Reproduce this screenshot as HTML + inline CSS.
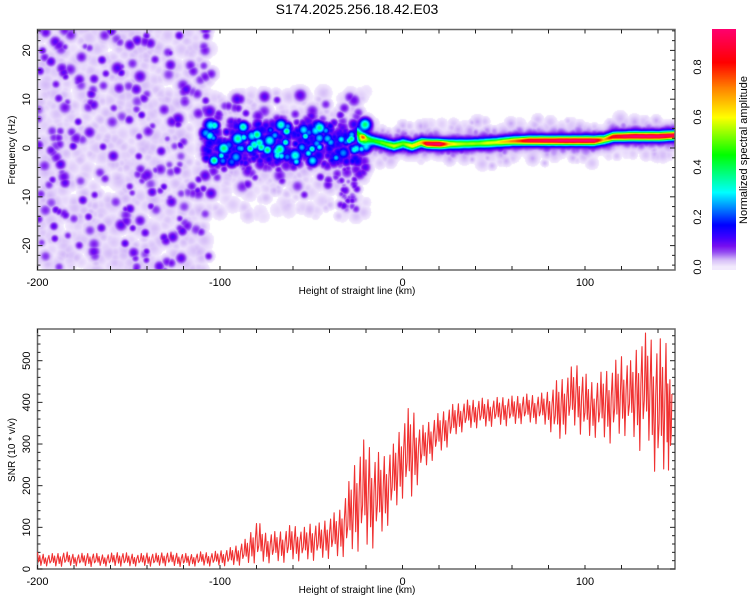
<!DOCTYPE html>
<html><head><meta charset="utf-8">
<style>
html,body{margin:0;padding:0;background:#fff;width:750px;height:600px;overflow:hidden;}
#wrap{position:relative;width:750px;height:600px;font-family:"Liberation Sans",sans-serif;}
canvas{position:absolute;}
svg{position:absolute;left:0;top:0;}
</style></head>
<body>
<div id="wrap">
<canvas id="heat" width="637" height="240" style="left:38px;top:30px"></canvas>
<canvas id="cbar" width="24" height="241" style="left:712px;top:29px"></canvas>
<svg id="svg" width="750" height="600"></svg>
</div>
<script>
// ---------- data ----------
const xTicks = [-200,-100,0,100];
const freqTicks = [-20,-10,0,10,20];
const snrTicks = [0,100,200,300,400,500];
const cbarTicks = [0.0,0.2,0.4,0.6,0.8];
// signal ridge (height km, frequency Hz, normalized amplitude)
const ridgeH = [-25,-20,-15,-10,-5,0,5,10,13,20,25,30,40,50,60,70,90,105,110,115,125,140,150];
const ridgeF = [3,2,1.5,1,0.5,1,0.5,1.2,1,0.9,0.9,0.9,1.0,1.2,1.5,1.6,1.6,1.6,1.8,2.4,2.5,2.5,2.7];
const ridgeA = [0.25,0.3,0.35,0.4,0.45,0.4,0.5,0.55,0.8,0.85,0.55,0.45,0.42,0.48,0.6,0.8,0.85,0.85,0.55,0.75,0.85,0.85,0.8];
// SNR envelope per 5 km bin
const snrH = [-200,-195,-190,-185,-180,-175,-170,-165,-160,-155,-150,-145,-140,-135,-130,-125,-120,-115,-110,-105,-100,-95,-90,-85,-80,-75,-70,-65,-60,-55,-50,-45,-40,-35,-30,-25,-20,-15,-10,-5,0,5,10,15,20,25,30,35,40,45,50,55,60,65,70,75,80,85,90,95,100,105,110,115,120,125,130,135,140,145,148];
const snrLo = [5,6,4,5,6,5,4,6,5,5,4,6,5,5,6,5,4,5,6,5,6,5,6,8,10,10,12,12,15,15,15,18,20,20,25,30,30,40,80,120,160,150,220,250,270,290,320,330,335,335,340,340,340,345,345,345,335,290,320,330,300,310,300,290,310,310,270,280,180,220,230];
const snrHi = [40,35,38,42,36,38,40,35,38,42,38,36,40,38,42,40,38,36,42,40,45,50,60,75,120,90,90,95,110,95,115,110,130,140,200,280,320,280,280,300,360,400,340,360,375,390,400,405,410,410,410,415,415,420,420,420,430,455,470,500,470,450,480,490,520,500,560,570,550,560,400];

// ---------- geometry ----------
const PX0=37.5, PX1=675;
const xH = h => PX0 + (h+200)*1.825;
const T_TOP=29.5, T_BOT=270;
const yF = f => 148 - f*4.88;
const B_TOP=329, B_BOT=569;
const yS = v => 569 - v*0.4166;
const CB_TOP=29, CB_BOT=270;
const yC = a => 267 - a*250;

const NS="http://www.w3.org/2000/svg";
const svg=document.getElementById('svg');
function mk(tag, attrs, parent){const e=document.createElementNS(NS,tag);for(const k in attrs)e.setAttribute(k,attrs[k]);(parent||svg).appendChild(e);return e;}

// ---------- colormap ----------
const cmStops=[[0,255,255,255],[0.006,240,230,253],[0.03,214,190,248],[0.06,150,80,242],[0.085,120,15,240],[0.12,64,0,255],[0.17,0,0,255],[0.3,0,255,255],[0.45,0,255,0],[0.6,255,255,0],[0.72,255,128,0],[0.82,255,0,0],[1.0,255,0,150]];
function cmap(v){
  if(v<=0.004) return [255,255,255];
  for(let i=1;i<cmStops.length;i++){
    if(v<=cmStops[i][0]){const a=cmStops[i-1],b=cmStops[i];const t=(v-a[0])/(b[0]-a[0]);
      return [a[1]+(b[1]-a[1])*t,a[2]+(b[2]-a[2])*t,a[3]+(b[3]-a[3])*t];}
  }
  return [255,0,150];
}

// ---------- heatmap ----------
(function(){
  const cv=document.getElementById('heat'),ctx=cv.getContext('2d');
  const W=cv.width,H=cv.height,OX=38,OY=30;
  const field=new Float32Array(W*H);
  function blob(cx,cy,s,a){
    const r=Math.ceil(s*2.5);
    const x0=Math.max(0,Math.floor(cx-r)),x1=Math.min(W-1,Math.ceil(cx+r));
    const y0=Math.max(0,Math.floor(cy-r)),y1=Math.min(H-1,Math.ceil(cy+r));
    for(let y=y0;y<=y1;y++)for(let x=x0;x<=x1;x++){
      const dx=x-cx,dy=y-cy;const v=a*Math.exp(-(dx*dx+dy*dy)/(2*s*s));
      const i=y*W+x; if(v>field[i]) field[i]=v;
    }
  }
  // background noise texture (deterministic LCG)
  let seed=12345;const rnd=()=>{seed=(seed*1103515245+12345)&0x7fffffff;return seed/0x7fffffff;};
  for(let i=0;i<1100;i++){
    let h=-200+rnd()*95; if(h>-108 && rnd()<0.6) continue;
    const f=-25+rnd()*50;
    const dark=rnd()<0.2;
    blob(xH(h)-OX,yF(f)-OY,dark?2.4+rnd()*2:3+rnd()*2.5,dark?0.065+rnd()*0.05:0.012+rnd()*0.02);
  }
  // middle band
  for(let i=0;i<700;i++){
    const h=-108+rnd()*88;
    const f=1+(rnd()+rnd()+rnd()-1.5)*8;
    const c=Math.abs(f-1)<4;
    let a;
    if(c){a=rnd()<0.18?0.2+rnd()*0.2:0.09+rnd()*0.08;}else{a=rnd()<0.4?0.07+rnd()*0.05:0.015+rnd()*0.02;}
    blob(xH(h)-OX,yF(f)-OY,2.6+rnd()*2,a);
  }
  for(let i=0;i<250;i++){ // faint halo
    const h=-105+rnd()*85,f=-14+rnd()*26;
    blob(xH(h)-OX,yF(f)-OY,2.5+rnd()*2.5,0.01+rnd()*0.02);
  }
  for(let i=0;i<30;i++){ // downward tail near -30
    const h=-35+rnd()*10,f=-4-rnd()*9;
    blob(xH(h)-OX,yF(f)-OY,2.2+rnd(),0.05+rnd()*0.06);
  }
  // right faint halo
  for(let i=0;i<500;i++){
    const h=-20+rnd()*170;
    let k=0;while(k<ridgeH.length-2&&ridgeH[k+1]<h)k++;
    const t=Math.max(0,Math.min(1,(h-ridgeH[k])/(ridgeH[k+1]-ridgeH[k])));
    const fc=ridgeF[k]+(ridgeF[k+1]-ridgeF[k])*t;
    const f=fc+(rnd()+rnd()-1)*5;
    blob(xH(h)-OX,yF(f)-OY,2.2+rnd()*2,0.01+rnd()*0.025);
  }
  // signal ridge from data arrays
  for(let x=0;x<W;x++){
    const h=(x+OX-PX0)/1.825-200;
    if(h<ridgeH[0]||h>ridgeH[ridgeH.length-1]+2) continue;
    let k=0;while(k<ridgeH.length-2&&ridgeH[k+1]<h)k++;
    const t=Math.max(0,Math.min(1,(h-ridgeH[k])/(ridgeH[k+1]-ridgeH[k])));
    const f=ridgeF[k]+(ridgeF[k+1]-ridgeF[k])*t;
    const a=ridgeA[k]+(ridgeA[k+1]-ridgeA[k])*t;
    const cy=yF(f)-OY;
    for(let y=Math.max(0,Math.floor(cy-18));y<Math.min(H,cy+18);y++){
      const d=y-cy;
      field[y*W+x]+=a*Math.exp(-d*d/(2*2.8*2.8))+0.1*Math.exp(-d*d/(2*6*6));
    }
  }
  const img=ctx.createImageData(W,H);
  for(let i=0;i<W*H;i++){const c=cmap(Math.min(1,field[i]));img.data[i*4]=c[0];img.data[i*4+1]=c[1];img.data[i*4+2]=c[2];img.data[i*4+3]=255;}
  ctx.putImageData(img,0,0);
})();

// ---------- colorbar ----------
(function(){
  const cv=document.getElementById('cbar'),ctx=cv.getContext('2d');
  for(let y=0;y<cv.height;y++){
    const v=(267-(y+CB_TOP))/250;const c=cmap(Math.max(0.005,v));
    ctx.fillStyle=`rgb(${c[0]|0},${c[1]|0},${c[2]|0})`;ctx.fillRect(0,y,24,1);
  }
  cbarTicks.forEach(v=>{
    const y=yC(v);
    const t=mk('text',{x:0,y:0,'font-size':11,'text-anchor':'middle',fill:'#000',transform:`translate(701,${y}) rotate(-90)`});
    t.textContent=v.toFixed(1);
    
    
  });
  const l=mk('text',{'font-size':11,'text-anchor':'middle',transform:'translate(747,150) rotate(-90)'});
  l.textContent='Normalized spectral amplitude';
  
  
})();

// ---------- axes ----------
function frame(top,bot,name){
  const r=mk('rect',{x:PX0,y:top,width:PX1-PX0,height:bot-top,fill:'none',stroke:'#666','stroke-width':1.5});
  
  
  for(let h=-200;h<=150;h+=20){
    const x=xH(h);
    mk('line',{x1:x,x2:x,y1:top,y2:top+4,stroke:'#222'});
    mk('line',{x1:x,x2:x,y1:bot,y2:bot-4,stroke:'#222'});
  }
  xTicks.forEach(h=>{
    const t=mk('text',{x:xH(h),y:bot+16,'font-size':11,'text-anchor':'middle'});
    t.textContent=h;
    
    
  });
  const xl=mk('text',{x:357,y:bot+24,'font-size':10,'text-anchor':'middle'});
  xl.textContent='Height of straight line (km)';
  
  
}
frame(T_TOP,T_BOT,'top-plot-frame');
frame(B_TOP,B_BOT,'bottom-plot-frame');
for(let f=-24;f<=24;f+=2){const y=yF(f);const L=f%10===0?5:3;
  mk('line',{x1:PX0,x2:PX0+L,y1:y,y2:y,stroke:'#222'});mk('line',{x1:PX1,x2:PX1-L,y1:y,y2:y,stroke:'#222'});}
freqTicks.forEach(f=>{
  const t=mk('text',{'font-size':11,'text-anchor':'middle',transform:`translate(30,${yF(f)}) rotate(-90)`});
  t.textContent=f;
  
  
});
for(let v=0;v<=560;v+=20){const y=yS(v);const L=v%100===0?5:3;
  mk('line',{x1:PX0,x2:PX0+L,y1:y,y2:y,stroke:'#222'});mk('line',{x1:PX1,x2:PX1-L,y1:y,y2:y,stroke:'#222'});}
snrTicks.forEach(v=>{
  const t=mk('text',{'font-size':11,'text-anchor':'middle',transform:`translate(30,${yS(v)}) rotate(-90)`});
  t.textContent=v;
  
  
});
const yl1=mk('text',{'font-size':10,'text-anchor':'middle',transform:'translate(15,150) rotate(-90)'});
yl1.textContent='Frequency (Hz)';


const yl2=mk('text',{'font-size':10,'text-anchor':'middle',transform:'translate(15,450) rotate(-90)'});
yl2.textContent='SNR (10 * v/v)';


const title=mk('text',{x:357,y:14,'font-size':14,'text-anchor':'middle'});
title.textContent='S174.2025.256.18.42.E03';



// ---------- SNR line ----------
(function(){
  const pattern=[1,0.35,0.8,0.1,0.55,0.95,0.25,0.7,0.05,0.6,0.9,0.3,0.45];
  let pts=[],p=0;
  for(let i=0;i<snrH.length-1;i++){
    const steps=8;
    for(let s=0;s<steps;s++){
      const t=s/steps;
      const h=snrH[i]+(snrH[i+1]-snrH[i])*t;
      const lo=snrLo[i]+(snrLo[i+1]-snrLo[i])*t;
      const hi=snrHi[i]+(snrHi[i+1]-snrHi[i])*t;
      const w=pattern[p++%pattern.length];
      pts.push(xH(h).toFixed(1)+','+yS(lo+(hi-lo)*w).toFixed(1));
    }
  }
  const pl=mk('polyline',{points:pts.join(' '),fill:'none',stroke:'#f03232','stroke-width':1.1,'stroke-linejoin':'round'});
  
  
})();
</script>
</body></html>
